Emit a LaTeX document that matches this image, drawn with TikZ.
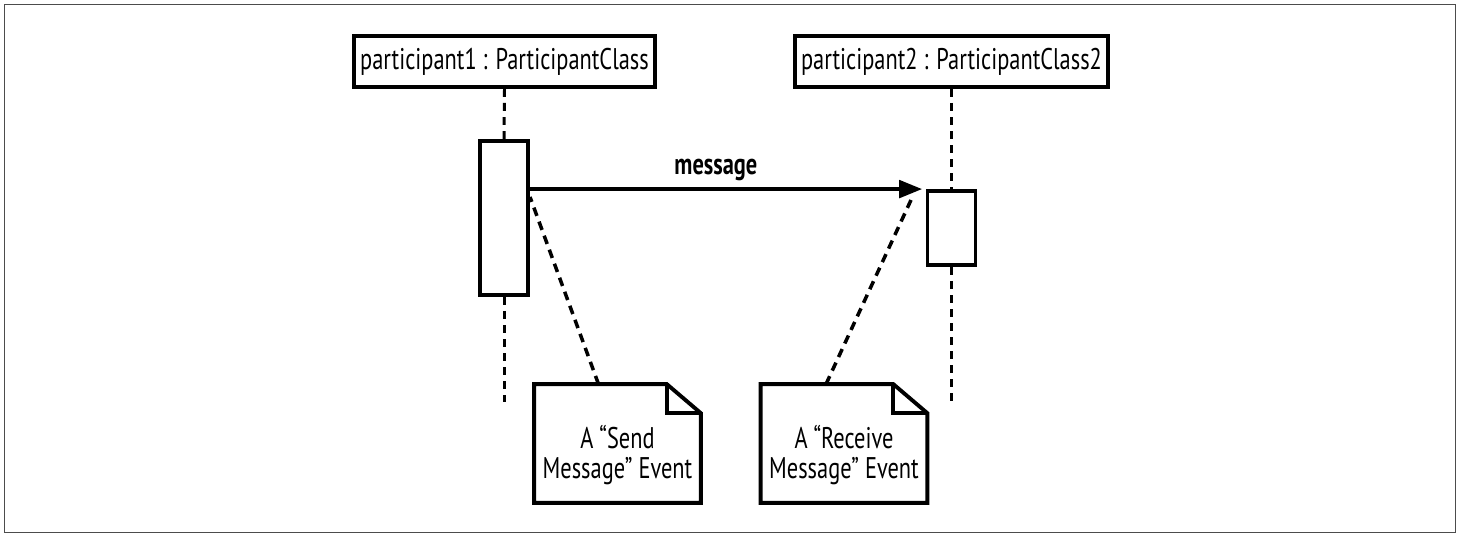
\documentclass[tikz,border=0pt]{standalone}
\usepackage{fontspec}
\setmainfont[FakeStretch=0.75]{PT Sans}
\usetikzlibrary{arrows.meta,calc}

\begin{document}
\begin{tikzpicture}[
    x=0.02cm, y=-0.02cm,
    obj/.style={draw, line width=2.2pt, minimum height=1.02cm, inner sep=2pt, font=\fontsize{17}{17}\selectfont},
    act/.style={draw, line width=2.2pt, fill=white, minimum width=0.96cm},
    lifeline/.style={line width=1.7pt, dash pattern=on 4.5pt off 3.5pt},
    msg/.style={line width=1.9pt, shorten >=2pt, -{Triangle[length=13pt,width=10pt]}},
    note/.style={minimum width=3.32cm, minimum height=2.36cm, inner sep=0pt},
    notetext/.style={align=center, font=\fontsize{17}{17}\selectfont},
    noteline/.style={line width=2.2pt, line join=miter},
    anchorline/.style={line width=2pt, dash pattern=on 5pt off 3.5pt}
  ]
  \useasboundingbox (0,0) rectangle (1459,537);
  \draw[black!70, line width=0.9pt] (4.5,4.5) rectangle (1455.5,532.5);

  % Participants
  \node[obj, minimum width=6.02cm] (p1) at (504.5,61.5) {participant1 : ParticipantClass};
  \node[obj, minimum width=6.26cm] (p2) at (951.5,61.5) {participant2 : ParticipantClass2};

  % Activations and lifelines
  \node[act, minimum height=3.08cm] (act1) at (504,218) {};
  \node[act, minimum height=1.48cm] (act2) at (951.5,228) {};
  \coordinate (end1) at (504,402);
  \coordinate (end2) at (951.5,402);
  \draw[lifeline] (p1.south) -- (act1.north);
  \draw[lifeline] (act1.south) -- (end1);
  \draw[lifeline] (p2.south) -- (act2.north);
  \draw[lifeline] (act2.south) -- (end2);

  % Message
  \draw[msg] (act1.east |- act2.north west) -- node[above, inner sep=3.5pt, pos=0.47, font=\bfseries\fontsize{17}{17}\selectfont] (msglabel) {message} (act2.north west);

  % Notes
  \node[note] (sendnote) at (617.5,443.5) {};
  \node[note] (recvnote) at (844,443.5) {};
  \foreach \n in {sendnote,recvnote} {
    \draw[noteline] (\n.north west) -- ([xshift=-0.68cm]\n.north east) -- ([yshift=-0.58cm]\n.north east) -- (\n.south east) -- (\n.south west) -- cycle;
    \draw[noteline] ([xshift=-0.68cm]\n.north east) |- ([yshift=-0.58cm]\n.north east);
  }
  \node[notetext] (sendtext) at ([yshift=-0.23cm]sendnote.center) {A “Send\\Message” Event};
  \node[notetext] (recvtext) at ([yshift=-0.23cm]recvnote.center) {A “Receive\\Message” Event};

  % Event pointers
  \coordinate (sendev) at (530,197);
  \coordinate (recvev) at (911,200);
  \draw[anchorline] ([xshift=-0.38cm]sendnote.north) -- (sendev);
  \draw[anchorline] ([xshift=-0.36cm]recvnote.north) -- (recvev);
\end{tikzpicture}
\end{document}
